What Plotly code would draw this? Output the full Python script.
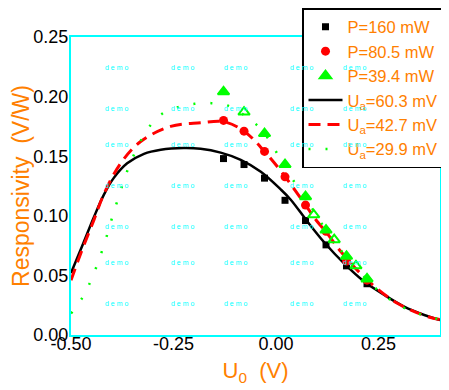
import plotly.graph_objects as go

# ---- data ----
sq_x = [-0.128, -0.078, -0.028, 0.022, 0.072, 0.122, 0.172, 0.222]
sq_y = [0.148, 0.143, 0.1316, 0.113, 0.096, 0.0756, 0.058, 0.0430]

ci_x = [-0.128, -0.078, -0.028, 0.022, 0.072, 0.122, 0.172, 0.222]
ci_y = [0.180, 0.171, 0.154, 0.1327, 0.109, 0.087, 0.062, 0.046]

tr_x = [-0.128, -0.078, -0.028, 0.022, 0.072, 0.092, 0.122, 0.142, 0.172, 0.195, 0.222]
tr_y = [0.204, 0.187, 0.169, 0.143, 0.116, 0.1008, 0.088, 0.080, 0.066, 0.058, 0.047]
tr_open = [False, True, False, False, False, True, False, True, False, True, False]

bl_x = [-0.50, -0.47, -0.444, -0.42, -0.396, -0.363, -0.322, -0.281, -0.225, -0.184,
        -0.135, -0.086, -0.037, 0.012, 0.036, 0.077, 0.117, 0.166, 0.215, 0.264,
        0.3125, 0.3615, 0.40]
bl_y = [0.052, 0.077, 0.099, 0.1176, 0.1316, 0.144, 0.152, 0.1554, 0.1568, 0.1562,
        0.153, 0.147, 0.137, 0.122, 0.1135, 0.095, 0.078, 0.060, 0.0448, 0.0336,
        0.0238, 0.0168, 0.0126]

rd_x = [-0.50, -0.473, -0.444, -0.42, -0.379, -0.33, -0.257, -0.184, -0.128, -0.078,
        -0.028, 0.022, 0.072, 0.101, 0.121, 0.158, 0.223, 0.296, 0.37, 0.40]
rd_y = [0.046, 0.0714, 0.0966, 0.118, 0.144, 0.1623, 0.175, 0.178, 0.179, 0.171,
        0.154, 0.133, 0.109, 0.095, 0.087, 0.070, 0.046, 0.0266, 0.0154, 0.013]

gr_x = [-0.50, -0.471, -0.451, -0.435, -0.421, -0.4085, -0.397, -0.384, -0.371, -0.3565,
        -0.338, -0.316, -0.2815, -0.239, -0.1985, -0.158, -0.119, -0.08, -0.039, -0.011,
        0.013, 0.0376, 0.07, 0.12, 0.17, 0.22, 0.2557, 0.30, 0.341, 0.378, 0.40]
gr_y = [0.018, 0.032, 0.046, 0.060, 0.074, 0.088, 0.1016, 0.1156, 0.1296, 0.1433,
        0.1573, 0.1713, 0.1847, 0.1912, 0.194, 0.1945, 0.1926, 0.185, 0.1736, 0.1604,
        0.146, 0.132, 0.116, 0.089, 0.066, 0.047, 0.0355, 0.025, 0.0187, 0.0149, 0.013]

x_ticks = [-0.50, -0.25, 0.00, 0.25]
y_ticks = [0.00, 0.05, 0.10, 0.15, 0.20, 0.25]

ORANGE = "#ff8000"
CYAN = "#00ffff"
GREEN = "#00ff00"

# page body adds an 8px offset; figure sized to fill the remaining window
W, H = 441, 382

fig = go.Figure()

fig.add_trace(go.Scatter(x=bl_x, y=bl_y, mode="lines", line=dict(color="black", width=2.5, shape="spline"),
                         name="U<sub>a</sub>=60.3 mV", legendrank=4))
fig.add_trace(go.Scatter(x=rd_x, y=rd_y, mode="lines",
                         line=dict(color="red", width=3, dash="12px,7px", shape="spline"),
                         name="U<sub>a</sub>=42.7 mV", legendrank=5))
fig.add_trace(go.Scatter(x=gr_x, y=gr_y, mode="lines",
                         line=dict(color=GREEN, width=2.5, dash="2px,15px", shape="spline"),
                         name="U<sub>a</sub>=29.9 mV", legendrank=6))

fig.add_trace(go.Scatter(x=sq_x, y=sq_y, mode="markers",
                         marker=dict(symbol="square", size=7, color="black"),
                         name="P=160 mW", legendrank=1))
fig.add_trace(go.Scatter(x=ci_x, y=ci_y, mode="markers",
                         marker=dict(symbol="circle", size=9, color="red"),
                         name="P=80.5 mW", legendrank=2))
fig.add_trace(go.Scatter(x=tr_x, y=tr_y, mode="markers",
                         marker=dict(symbol=["triangle-up-open" if o else "triangle-up" for o in tr_open],
                                     size=10, color=GREEN, line=dict(color=GREEN, width=2)),
                         name="P=39.4 mW", legendrank=3))

# watermark
ann = []
for i in range(5):
    for j in range(7):
        ann.append(dict(xref="paper", yref="paper", x=(31.5 + 66.4 * i) / 369.0,
                        y=(273.0 - 41.2 * j) / 298.0, text="d e m o", showarrow=False,
                        font=dict(size=7, color=CYAN, family="Arial")))

fig.update_layout(
    width=W, height=H,
    margin=dict(l=63, r=9, t=29, b=55, autoexpand=False),
    paper_bgcolor="white", plot_bgcolor="white",
    font=dict(family="Arial", size=18, color="black"),
    showlegend=True,
    legend=dict(xref="container", yref="container", x=294 / W, y=1 + 2 / H,
                xanchor="left", yanchor="top", bgcolor="white",
                bordercolor="black", borderwidth=1.5, font=dict(size=16.5, color=ORANGE),
                tracegroupgap=0, itemwidth=34),
    annotations=ann,
)
fig.update_xaxes(range=[-0.5, 0.4], tickvals=x_ticks, ticktext=[f"{v:.2f}" for v in x_ticks],
                 showgrid=False, zeroline=False, showline=True, linecolor=CYAN, linewidth=2,
                 mirror=True, ticks="", tickfont=dict(size=18, color="black"), automargin=False,
                 ticklabelstandoff=-9,
                 title=dict(text="U<sub>0</sub>\u00a0\u00a0(V)", font=dict(size=22, color=ORANGE), standoff=10))
fig.update_yaxes(range=[0, 0.25], tickvals=y_ticks, ticktext=[f"{v:.2f}" for v in y_ticks],
                 showgrid=False, zeroline=False, showline=True, linecolor=CYAN, linewidth=2,
                 mirror=True, ticks="", tickfont=dict(size=18, color="black"), automargin=False,
                 ticklabelstandoff=-3,
                 title=dict(text="Responsivity\u00a0\u00a0(V/W)", font=dict(size=23, color=ORANGE), standoff=4))

fig.write_html("out.html")
